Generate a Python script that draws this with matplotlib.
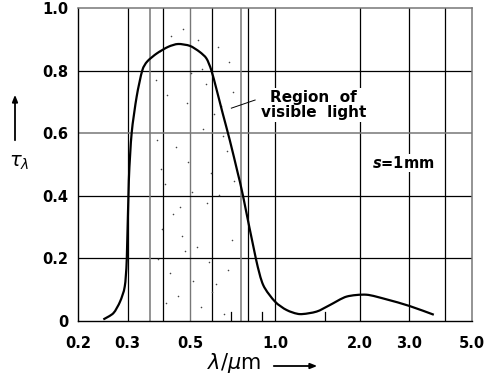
import numpy as np
import matplotlib
matplotlib.use("Agg")
import matplotlib.pyplot as plt
from matplotlib.path import Path
from matplotlib.patches import PathPatch, FancyArrowPatch
from matplotlib.ticker import FixedLocator, FixedFormatter, NullLocator

# Spectral transmittance of a 1 mm layer
wavelength_um = [0.246, 0.267, 0.282, 0.293, 0.298, 0.303, 0.310, 0.323, 0.338,
                 0.352, 0.381, 0.418, 0.453, 0.499, 0.540, 0.571, 0.594, 0.619,
                 0.652, 0.691, 0.738, 0.770, 0.855, 0.908, 1.000, 1.100, 1.225,
                 1.404, 1.566, 1.795, 2.110, 2.490, 3.000, 3.660]
transmittance = [0.005, 0.025, 0.062, 0.110, 0.200, 0.450, 0.600, 0.717, 0.800,
                 0.829, 0.855, 0.876, 0.885, 0.879, 0.860, 0.839, 0.802, 0.743,
                 0.664, 0.578, 0.472, 0.400, 0.200, 0.115, 0.062, 0.035, 0.022,
                 0.030, 0.051, 0.078, 0.084, 0.069, 0.048, 0.020]

x_ticks = [0.2, 0.3, 0.5, 1.0, 2.0, 3.0, 5.0]
x_tick_labels = ["0.2", "0.3", "0.5", "1.0", "2.0", "3.0", "5.0"]
y_ticks = [0.0, 0.2, 0.4, 0.6, 0.8, 1.0]
y_tick_labels = ["0", "0.2", "0.4", "0.6", "0.8", "1.0"]

v_grid_dark = [0.3, 0.4, 0.6, 0.8, 1.0, 2.0, 3.0, 4.0]
v_grid_grey = [0.5]
h_grid_dark = [0.2, 0.4, 0.8]
h_grid_grey = [0.6]
short_ticks = [0.7, 0.9, 1.5]
visible_band = (0.36, 0.76)

FONT = "DejaVu Sans"


def smooth_path(xs, ys, tension=0.4):
    """Catmull-Rom curve through the points, built in log-x space as cubic Beziers."""
    lx = np.log10(np.asarray(xs, float))
    yy = np.asarray(ys, float)
    pts = np.column_stack([lx, yy])
    n = len(pts)
    verts = [pts[0]]
    codes = [Path.MOVETO]
    for i in range(n - 1):
        p0 = pts[max(i - 1, 0)]
        p1 = pts[i]
        p2 = pts[i + 1]
        p3 = pts[min(i + 2, n - 1)]
        c1 = p1 + (p2 - p0) * tension / 3.0
        c2 = p2 - (p3 - p1) * tension / 3.0
        verts += [c1, c2, p2]
        codes += [Path.CURVE4] * 3
    verts = np.array(verts)
    verts[:, 0] = 10 ** verts[:, 0]
    return Path(verts, codes)


def halton(i, base):
    f, r = 1.0, 0.0
    while i > 0:
        f /= base
        r += f * (i % base)
        i //= base
    return r


fig = plt.figure(figsize=(4.92, 3.82), dpi=100)
ax = fig.add_axes([78 / 492, 61 / 382, 394 / 492, 313 / 382])
ax.set_xscale("log")
ax.set_xlim(0.2, 5.0)
ax.set_ylim(0.0, 1.0)

# grid
for xv in v_grid_dark:
    ax.axvline(xv, color="black", lw=0.9, zorder=1)
for xv in v_grid_grey:
    ax.axvline(xv, color="#777777", lw=1.0, zorder=1)
for yv in h_grid_dark:
    ax.axhline(yv, color="black", lw=0.9, zorder=1)
for yv in h_grid_grey:
    ax.axhline(yv, color="#777777", lw=1.1, zorder=1)
for xv in short_ticks:
    ax.plot([xv, xv], [0.0, 0.03], color="black", lw=0.9, zorder=1)

# visible light band: boundary lines and stipple
for xv in visible_band:
    ax.axvline(xv, color="#777777", lw=1.1, zorder=1)
lo, hi = np.log10(visible_band[0]), np.log10(visible_band[1])
idx = range(3, 49)
u = np.array([halton(i, 2) for i in idx])
v = np.array([halton(i, 3) for i in idx])
ax.scatter(10 ** (lo + (0.05 + 0.9 * u) * (hi - lo)), 0.01 + v * 0.96,
           s=1.3, color="#444444", linewidths=0, zorder=1)

# transmittance curve
ax.add_patch(PathPatch(smooth_path(wavelength_um, transmittance),
                       facecolor="none", edgecolor="black", lw=1.6,
                       joinstyle="round", zorder=3))

# axes frame
for side in ("left", "bottom"):
    ax.spines[side].set_color("black")
    ax.spines[side].set_linewidth(1.0)
for side in ("top", "right"):
    ax.spines[side].set_color("#777777")
    ax.spines[side].set_linewidth(1.1)

ax.xaxis.set_major_locator(FixedLocator(x_ticks))
ax.xaxis.set_major_formatter(FixedFormatter(x_tick_labels))
ax.xaxis.set_minor_locator(NullLocator())
ax.yaxis.set_major_locator(FixedLocator(y_ticks))
ax.yaxis.set_major_formatter(FixedFormatter(y_tick_labels))
ax.tick_params(axis="both", length=0, labelsize=10.5)
ax.tick_params(axis="x", pad=11)
ax.tick_params(axis="y", pad=7)
for lab in ax.get_xticklabels() + ax.get_yticklabels():
    lab.set_fontfamily(FONT)
    lab.set_fontweight("bold")

# annotations
ax.text(1.37, 0.69, "Region  of\nvisible  light", ha="center", va="center",
        fontsize=11, fontweight="bold", family=FONT, linespacing=1.0,
        bbox=dict(facecolor="white", edgecolor="none", pad=1.5), zorder=4)
ax.plot([0.70, 0.85], [0.68, 0.706], color="black", lw=0.7, zorder=4)

ax.text(2.85, 0.505, r"$\mathbfit{s}$=1mm", ha="center", va="center",
        fontsize=10.5, fontweight="bold", family=FONT,
        bbox=dict(facecolor="white", edgecolor="none", pad=0.5), zorder=4)

# axis titles with arrows
fig.text(19 / 492, 1 - 163 / 382, r"$\tau_\lambda$", ha="center", va="center",
         fontsize=14)
fig.add_artist(FancyArrowPatch(
    (15 / 492, 1 - 143 / 382), (15 / 492, 1 - 92 / 382),
    transform=fig.transFigure, arrowstyle="-|>,head_length=4,head_width=1.6",
    color="black", lw=1.3))

fig.text(234 / 492, 1 - 363 / 382, r"$\lambda/\mu$m", ha="center", va="center",
         fontsize=15, family=FONT)
fig.add_artist(FancyArrowPatch(
    (271 / 492, 1 - 366 / 382), (320 / 492, 1 - 366 / 382),
    transform=fig.transFigure, arrowstyle="-|>,head_length=4,head_width=1.6",
    color="black", lw=1.3))

fig.savefig("out.png", dpi=100, facecolor="white")
